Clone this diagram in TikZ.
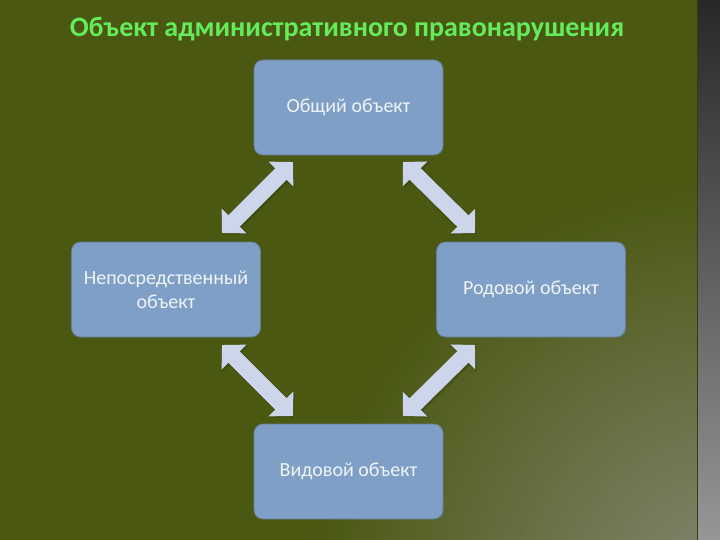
\documentclass[tikz,border=0pt]{standalone}
\usepackage{fontspec}
\setmainfont{Carlito}
\usetikzlibrary{arrows.meta,fadings}
\tikzfading[name=radfade, inner color=transparent!0, outer color=transparent!100]
\definecolor{bgtop}{RGB}{74,88,18}
\definecolor{bglight}{RGB}{134,136,118}
\definecolor{titlegreen}{RGB}{100,236,90}
\definecolor{boxfill}{RGB}{127,159,198}
\definecolor{boxedge}{RGB}{100,125,150}
\definecolor{boxtext}{RGB}{240,244,250}
\definecolor{arrowfill}{RGB}{204,213,234}
\definecolor{arrowshadow}{RGB}{48,58,12}
\definecolor{stripdark}{RGB}{40,40,40}
\definecolor{striplight}{RGB}{150,150,150}
\tikzset{
  objbox/.style={rectangle, rounded corners=9pt, fill=boxfill, draw=boxedge, line width=0.8pt, text=boxtext,
    minimum width=189pt, minimum height=95pt, inner sep=2pt, align=center,
    font=\fontsize{20}{24}\selectfont},
  blockarrow/.style={draw=arrowfill, line width=16pt,
    {Triangle[length=17pt,width=34pt,fill=arrowfill]}-{Triangle[length=17pt,width=34pt,fill=arrowfill]}},
  blockshadow/.style={draw=arrowshadow, line width=18pt, opacity=0.4,
    {Triangle[length=18pt,width=37pt,fill=arrowshadow]}-{Triangle[length=18pt,width=37pt,fill=arrowshadow]}}
}
\begin{document}
\begin{tikzpicture}[x=1pt,y=-1pt]
\useasboundingbox (0,0) rectangle (720,540);
% background
\fill[bgtop] (0,0) rectangle (698,540);
\begin{scope}
\clip (0,0) rectangle (698,540);
\fill[bglight, path fading=radfade] (730,600) circle (420);
\end{scope}
\shade[top color=stripdark, bottom color=striplight] (698,0) rectangle (720,540);
\draw[line width=1pt, color=bgtop!70!black] (697.5,0) -- (697.5,540);
% title
\node[text=titlegreen, font=\fontsize{28}{30}\selectfont\bfseries] (title) at (347,29) {Объект административного правонарушения};
% boxes
\node[objbox] (general) at (348.5,107.5) {Общий объект};
\node[objbox] (direct) at (166,289.5) {Непосредственный\\объект};
\node[objbox] (generic) at (531,289.5) {Родовой объект};
\node[objbox] (specific) at (348.5,471.5) {Видовой объект};
% arrow end points
\coordinate (a1s) at (222,233); \coordinate (a1e) at (293,162);
\coordinate (a2s) at (403,162); \coordinate (a2e) at (475,233);
\coordinate (a3s) at (222,345); \coordinate (a3e) at (293,416);
\coordinate (a4s) at (403,416); \coordinate (a4e) at (475,345);
\foreach \s/\e in {a1s/a1e,a2s/a2e,a3s/a3e,a4s/a4e}{
  \draw[blockshadow, transform canvas={xshift=1pt,yshift=-1pt}] (\s) -- (\e);
}
\foreach \s/\e in {a1s/a1e,a2s/a2e,a3s/a3e,a4s/a4e}{
  \draw[blockarrow] (\s) -- (\e);
}
\end{tikzpicture}
\end{document}
